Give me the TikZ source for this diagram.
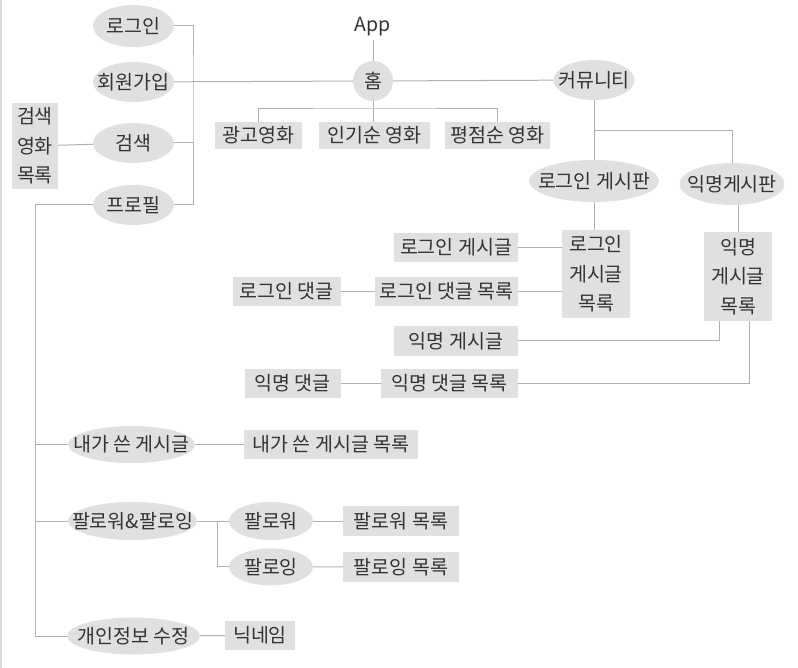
\documentclass[tikz,border=0pt]{standalone}
\usepackage{fontspec}
\setmainfont{Noto Sans CJK KR}
\usetikzlibrary{positioning}
\usetikzlibrary{shapes.geometric}
\definecolor{boxgray}{HTML}{E0E0E0}
\definecolor{linegray}{HTML}{B0B0B0}
\definecolor{textgray}{HTML}{333333}
\newcommand{\ztext}[1]{\makebox[0pt]{#1}}
\tikzstyle{E} = [ellipse,fill=boxgray,inner sep=0pt,minimum width=81pt,minimum height=40pt]
\tikzstyle{B} = [rectangle,fill=boxgray,inner xsep=2pt,inner ysep=1pt,minimum height=29pt,align=center]
\tikzstyle{L} = [draw=linegray,line width=1pt]

\begin{document}
\begin{tikzpicture}[x=1pt,y=-1pt,text=textgray,font=\fontsize{19.5}{29.5}\selectfont]
  \useasboundingbox (0,0) rectangle (798,668);
  \draw [gray!30,line width=1.5pt] (1,0) -- (1,668);

  \node (app) at (373,27) {App};
  \node [E,minimum width=40pt] (hm) at (373,81) {\ztext{홈}};
  \node [E] (cm) at (594,80) {\ztext{커뮤니티}};

  \node [E,minimum height=42pt] (lg) at (133.5,26) {\ztext{로그인}};
  \node [E] (sj) at (133.5,82) {\ztext{회원가입}};
  \node [E] (sr) at (133.5,143) {\ztext{검색}};
  \node [E] (pf) at (133.5,205) {\ztext{프로필}};
  \node [B,minimum width=46pt,minimum height=86pt] (sl) at (35,146) {검색\\영화\\목록};

  \node [B,minimum width=87pt,minimum height=27pt] (ad) at (258.5,135.5) {광고영화};
  \node [B,minimum width=111pt,minimum height=27pt] (pop) at (374.5,135.5) {인기순 영화};
  \node [B,minimum width=105pt,minimum height=27pt] (rt) at (497.5,135.5) {평점순 영화};
  \coordinate (hj) at (373,109);

  % community boards
  \node [E,minimum width=130pt,minimum height=42pt] (lb) at (594,181) {\ztext{로그인 게시판}};
  \node [E,minimum width=105pt,minimum height=42pt] (ab) at (732,184) {\ztext{익명게시판}};
  \coordinate (cj) at (594,131);
  \node [B,minimum width=68pt,minimum height=88pt] (ll) at (596,274) {로그인\\게시글\\목록};
  \node [B,minimum width=68pt,minimum height=89pt] (al) at (738,276.5) {익명\\게시글\\목록};

  \node [B,minimum width=124pt] (lp) at (456,247.5) {로그인 게시글};
  \node [B,minimum width=143pt] (lcl) at (446.5,291.5) {로그인 댓글 목록};
  \node [B,minimum width=108pt,left=34pt of lcl] (lc) {로그인 댓글};
  \node [B,minimum width=124pt,minimum height=30pt] (ap) at (456,341) {익명 게시글};
  \node [B,minimum width=137pt] (acl) at (449.5,383.5) {익명 댓글 목록};
  \node [B,minimum width=96pt,left=40pt of acl] (ac) {익명 댓글};

  % profile
  \node [E,minimum width=127pt,minimum height=37pt] (mw) at (131.5,444.5) {\ztext{내가 쓴 게시글}};
  \node [B,minimum width=174pt] (ml) at (331,444.5) {내가 쓴 게시글 목록};
  \node [E,minimum width=129pt,minimum height=38pt] (ff) at (132.5,521) {\ztext{팔로워\&팔로잉}};
  \node [E,minimum width=84pt,minimum height=38pt] (fw) at (271,521) {\ztext{팔로워}};
  \node [E,minimum width=84pt,minimum height=37pt,below=8pt of fw] (fi) {\ztext{팔로잉}};
  \node [B,minimum width=116pt,minimum height=30pt] (fwl) at (401,521) {팔로워 목록};
  \node [B,minimum width=116pt,minimum height=30pt] (fil) at (401,567) {팔로잉 목록};
  \coordinate (fj) at (217,521);
  \node [E,minimum width=133pt,minimum height=37pt] (ps) at (133.5,636) {\ztext{개인정보 수정}};
  \node [B,minimum width=70pt] (nk) at (260,635.5) {닉네임};
  \coordinate (pv) at (35,636);

  \draw [L] (app) -- (hm);
  \draw [L] (sj) -- (hm);
  \draw [L] (hm) -- (cm);
  \draw [L] (hm) -- (hm |- pop.north);
  \draw [L] (ad.north) |- (hj) -| (rt.north);

  \draw [L] (lg.east) -| (193,82) |- (pf.east);
  \draw [L] (sr.east) -- (sr.east -| 193,0);
  \draw [L] (sl) -- (sr);

  \draw [L] (cm) -- (lb);
  \draw [L] (cj) -| (ab.north);
  \draw [L] (lb) -- (lb.south |- ll.north);
  \draw [L] (al.north) -- (al.north |- ab.south);
  \draw [L] (lp) -- (lp -| ll.west);
  \draw [L] (lcl) -- (lcl -| ll.west);
  \draw [L] (lc) -- (lcl);
  \draw [L] (ap) -| ([xshift=-19pt]al.south);
  \draw [L] (acl) -| ([xshift=11pt]al.south);
  \draw [L] (ac) -- (acl);

  \draw [L] (pf.west) -| (pv) -- (ps);
  \draw [L] (mw) -- (mw -| pv);
  \draw [L] (ff) -- (ff -| pv);
  \draw [L] (mw) -- (ml);
  \draw [L] (ff) -- (fw);
  \draw [L] (fj) |- (fi);
  \draw [L] (fw) -- (fwl);
  \draw [L] (fi) -- (fil);
  \draw [L] (ps) -- (nk);

\end{tikzpicture}
\end{document}
